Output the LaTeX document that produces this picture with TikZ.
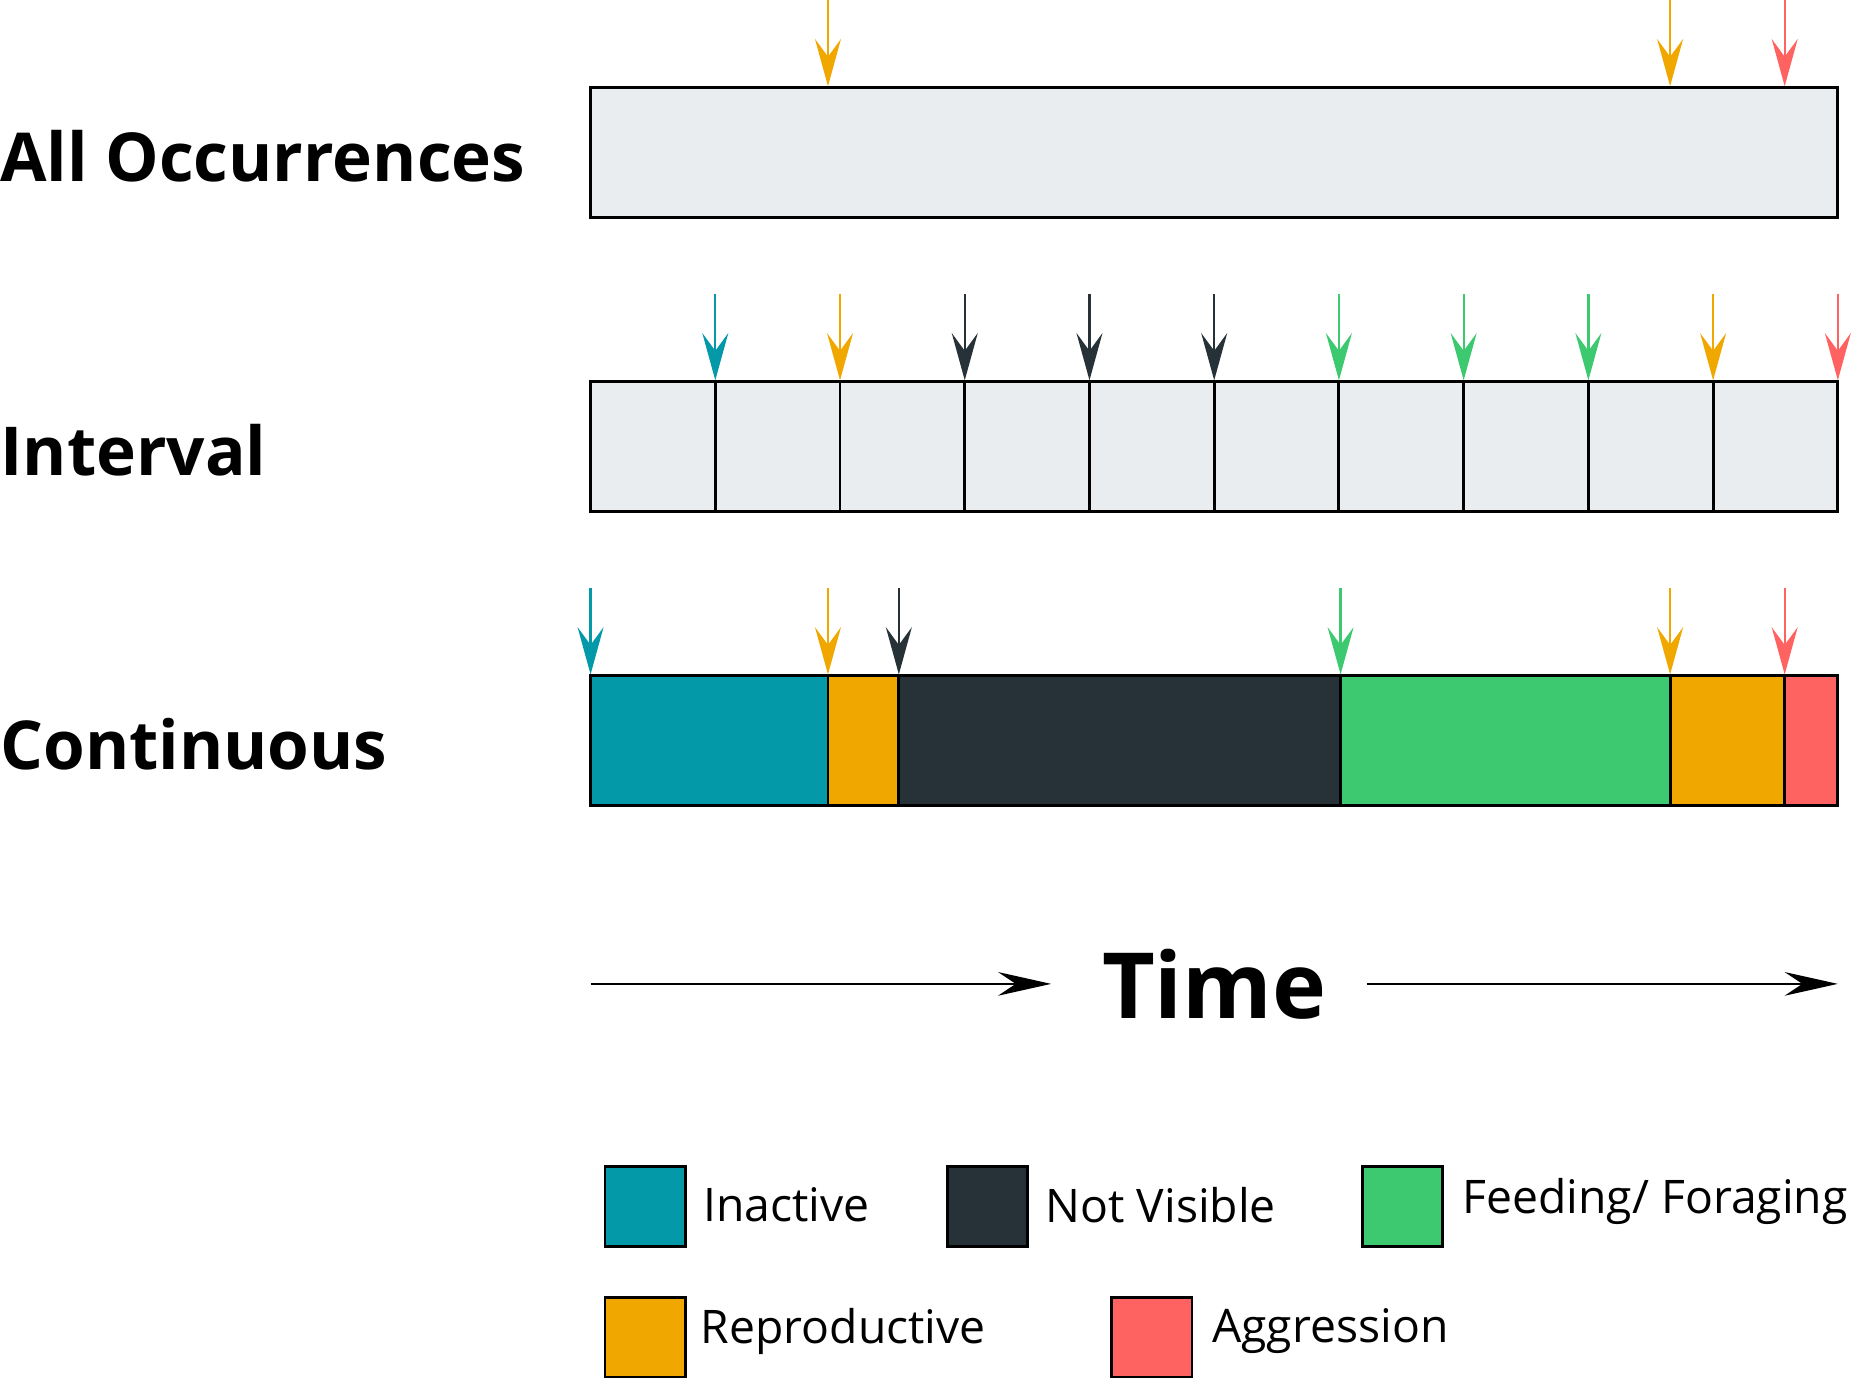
\documentclass[tikz,border=0pt]{standalone}
\usepackage{fontspec}
\setmainfont{Open Sans}
\usetikzlibrary{arrows.meta}
\definecolor{cteal}{HTML}{0399A8}
\definecolor{corange}{HTML}{F0A800}
\definecolor{cdark}{HTML}{263238}
\definecolor{cgreen}{HTML}{3DC970}
\definecolor{cred}{HTML}{FF6361}
\definecolor{cgray}{HTML}{EAEDF0}
\tikzset{
 bar/.style={draw=black,line width=1.4pt},
 evarrow/.style={line width=1.1pt,-{Stealth[length=0.8cm,width=0.44cm,inset=0.3cm]}},
 rowlab/.style={anchor=west,font=\fontsize{32.5}{36}\selectfont\bfseries,inner sep=0},
 legbox/.style={draw=black,line width=1.4pt,minimum size=1.36cm,anchor=north west,inner sep=0},
 legtxt/.style={anchor=west,font=\fontsize{22.3}{26}\selectfont,inner sep=0},
}
\begin{document}
\begin{tikzpicture}[x=0.02cm,y=-0.02cm]
\useasboundingbox (0,0) rectangle (1568,1166);
% row 1
\node[rowlab] (l1) at (0,132) {All Occurrences};
\filldraw[bar,fill=cgray] (500,74) rectangle (1556,184);
\foreach \x/\c in {701/corange,1414/corange,1511/cred}
  {\coordinate (a) at (\x,0); \coordinate (b) at (\x,73); \draw[evarrow,draw=\c,fill=\c] (a) -- (b);}
% row 2
\node[rowlab] (l2) at (0,381) {Interval};
\filldraw[bar,fill=cgray] (500,323) rectangle (1556,433);
\foreach \i in {1,...,9} \draw[bar] (500+105.6*\i,323) -- (500+105.6*\i,433);
\foreach \i/\c in {1/cteal,2/corange,3/cdark,4/cdark,5/cdark,6/cgreen,7/cgreen,8/cgreen,9/corange,10/cred}
  {\coordinate (a) at (500+105.6*\i,249); \coordinate (b) at (500+105.6*\i,322); \draw[evarrow,draw=\c,fill=\c] (a) -- (b);}
% row 3
\node[rowlab] (l3) at (0,630) {Continuous};
\foreach \a/\b/\c in {500/701/cteal,701/761/corange,761/1135/cdark,1135/1414/cgreen,1414/1511/corange,1511/1556/cred}
  \filldraw[bar,fill=\c] (\a,572) rectangle (\b,682);
\foreach \x/\c in {500/cteal,701/corange,761/cdark,1135/cgreen,1414/corange,1511/cred}
  {\coordinate (a) at (\x,498); \coordinate (b) at (\x,571); \draw[evarrow,draw=\c,fill=\c] (a) -- (b);}
% time
\node[font=\fontsize{44}{50}\selectfont\bfseries,inner sep=0] (t) at (1028,833) {Time};
\coordinate (t1) at (500,833); \coordinate (t2) at (890,833);
\coordinate (t3) at (1157,833); \coordinate (t4) at (1556,833);
\draw[line width=1.3pt,-{Stealth[length=0.9cm,width=0.4cm,inset=0.3cm]}] (t1) -- (t2);
\draw[line width=1.3pt,-{Stealth[length=0.9cm,width=0.4cm,inset=0.3cm]}] (t3) -- (t4);
% legend
\node[legbox,fill=cteal] (g1) at (511,986) {};
\node[legtxt] at (595,1020) {Inactive};
\node[legbox,fill=cdark] (g2) at (801,986) {};
\node[legtxt] at (885,1020) {Not Visible};
\node[legbox,fill=cgreen] (g3) at (1152,986) {};
\node[legtxt] at (1238,1017) {Feeding/ Foraging};
\node[legbox,fill=corange] (g4) at (511,1097) {};
\node[legtxt] at (593,1127) {Reproductive};
\node[legbox,fill=cred] (g5) at (940,1097) {};
\node[legtxt] at (1026,1127) {Aggression};
\end{tikzpicture}
\end{document}
